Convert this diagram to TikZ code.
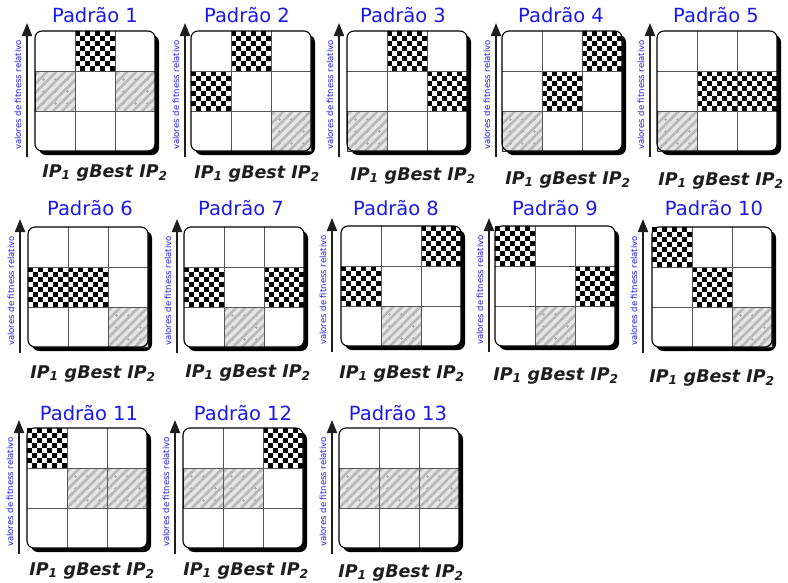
\documentclass[tikz,border=0pt]{standalone}
\usepackage{fontspec}
\setmainfont{DejaVu Sans}
\usetikzlibrary{arrows.meta}
\definecolor{ttlblue}{RGB}{25,25,235}
\definecolor{hbg}{RGB}{230,230,230}
\definecolor{hln}{RGB}{185,185,185}
\definecolor{gridc}{RGB}{85,85,85}
\definecolor{lblc}{RGB}{30,30,30}
\tikzset{
  ttl/.style={font=\fontsize{19.5}{21}\selectfont, text=ttlblue, anchor=base, inner sep=0pt},
  lbl/.style={font=\fontsize{17.5}{19}\selectfont\bfseries\itshape, text=lblc, anchor=base, inner sep=0pt},
  axlbl/.style={font=\fontsize{8.5}{9}\selectfont, text=ttlblue, rotate=90, inner sep=0pt},
  axarrow/.style={draw=lblc, line width=2pt, -{Triangle[width=10pt,length=13pt]}},
  gridline/.style={draw=gridc, line width=0.9pt},
  outerframe/.style={draw=black, line width=1.1pt, rounded corners=7pt},
}
\newcommand\PanelBase[1]{%
  \fill[black, rounded corners=7pt] ({\PX+4},{\PY+4}) rectangle ({\PX+124},{\PY+124});
  \fill[white, rounded corners=7pt] (\PX,\PY) rectangle ({\PX+120},{\PY+120});
  \coordinate (s#1) at (\AX,{\PY+126});
  \coordinate (e#1) at (\AX,{\PY-8});
  \draw[axarrow] (s#1) -- (e#1);
  \node[axlbl] (v#1) at ({\AX-9},{\PY+64}) {valores de fitness relativo};
}
\newcommand\PanelFrame{%
  \draw[gridline] ({\PX+40},\PY) -- ++(0,120);
  \draw[gridline] ({\PX+80},\PY) -- ++(0,120);
  \draw[gridline] (\PX,{\PY+40}) -- ++(120,0);
  \draw[gridline] (\PX,{\PY+80}) -- ++(120,0);
  \draw[outerframe] (\PX,\PY) rectangle ++(120,120);
}
\newcommand\Chk[2]{%
  \fill[white] ({\PX+40*#1},{\PY+40*#2}) rectangle ++(40,40);
  \foreach \i in {0,...,7}{
    \pgfmathtruncatemacro\oo{mod(\i,2)}
    \foreach \j in {0,2,4,6}{
      \fill[black] ({\PX+40*#1+(\j+\oo)*5},{\PY+40*#2+\i*5}) rectangle ++(5,5);
    }
  }
}
\newcommand\Htc[2]{%
  \begin{scope}
    \clip ({\PX+40*#1},{\PY+40*#2}) rectangle ++(40,40);
    \fill[hbg] ({\PX+40*#1},{\PY+40*#2}) rectangle ++(40,40);
    \foreach \k in {-5,...,4}{
      \draw[hln, line width=2.6pt] ({\PX+40*#1+\k*9},{\PY+40*#2+40}) -- ++(40,-40);
    }
    \foreach \a in {8,20,32}{
      \foreach \b in {8,20,32}{
        \draw[gray!60, line width=0.4pt] ({\PX+40*#1+\a-1.5},{\PY+40*#2+\b}) -- ++(3,0)
          ({\PX+40*#1+\a},{\PY+40*#2+\b-1.5}) -- ++(0,3);
      }
    }
  \end{scope}
  \draw[gridc!60!black, line width=1pt] ({\PX+40*#1},{\PY+40*#2}) rectangle ++(40,40);
}
\newcommand\IPlabel{IP\textsubscript{1} gBest IP\textsubscript{2}}
\begin{document}
\begin{tikzpicture}[x=1pt,y=-1pt]
\useasboundingbox (0,0) rectangle (788,582);
% ---------- Panel 1
\def\PX{35}\def\PY{31}\def\AX{27}
\PanelBase{1}
\Chk{1}{0}\Htc{0}{1}\Htc{2}{1}
\PanelFrame
\node[ttl] (t1) at (95,22) {Padrão 1};
\node[lbl] (l1) at (105,177) {\IPlabel};
% ---------- Panel 2
\def\PX{191}\def\PY{31}\def\AX{185}
\PanelBase{2}
\Chk{1}{0}\Chk{0}{1}\Htc{2}{2}
\PanelFrame
\node[ttl] (t2) at (247,22) {Padrão 2};
\node[lbl] (l2) at (257,178) {\IPlabel};
% ---------- Panel 3
\def\PX{347}\def\PY{31}\def\AX{339}
\PanelBase{3}
\Chk{1}{0}\Chk{2}{1}\Htc{0}{2}
\PanelFrame
\node[ttl] (t3) at (403,22) {Padrão 3};
\node[lbl] (l3) at (413,180) {\IPlabel};
% ---------- Panel 4
\def\PX{502}\def\PY{31}\def\AX{496}
\PanelBase{4}
\Chk{2}{0}\Chk{1}{1}\Htc{0}{2}
\PanelFrame
\node[ttl] (t4) at (561,22) {Padrão 4};
\node[lbl] (l4) at (568,184) {\IPlabel};
% ---------- Panel 5
\def\PX{657}\def\PY{31}\def\AX{650}
\PanelBase{5}
\Chk{1}{1}\Chk{2}{1}\Htc{0}{2}
\PanelFrame
\node[ttl] (t5) at (716,22) {Padrão 5};
\node[lbl] (l5) at (721,185) {\IPlabel};
% ---------- Panel 6
\def\PX{28}\def\PY{227}\def\AX{20}
\PanelBase{6}
\Chk{0}{1}\Chk{1}{1}\Htc{2}{2}
\PanelFrame
\node[ttl] (t6) at (90,215) {Padrão 6};
\node[lbl] (l6) at (93,378) {\IPlabel};
% ---------- Panel 7
\def\PX{184}\def\PY{227}\def\AX{177}
\PanelBase{7}
\Chk{0}{1}\Chk{2}{1}\Htc{1}{2}
\PanelFrame
\node[ttl] (t7) at (241,215) {Padrão 7};
\node[lbl] (l7) at (248,377) {\IPlabel};
% ---------- Panel 8
\def\PX{341}\def\PY{226}\def\AX{332}
\PanelBase{8}
\Chk{2}{0}\Chk{0}{1}\Htc{1}{2}
\PanelFrame
\node[ttl] (t8) at (396,215) {Padrão 8};
\node[lbl] (l8) at (402,378) {\IPlabel};
% ---------- Panel 9
\def\PX{495}\def\PY{226}\def\AX{489}
\PanelBase{9}
\Chk{0}{0}\Chk{2}{1}\Htc{1}{2}
\PanelFrame
\node[ttl] (t9) at (555,215) {Padrão 9};
\node[lbl] (l9) at (556,380) {\IPlabel};
% ---------- Panel 10
\def\PX{652}\def\PY{227}\def\AX{643}
\PanelBase{10}
\Chk{0}{0}\Chk{1}{1}\Htc{2}{2}
\PanelFrame
\node[ttl] (t10) at (714,215) {Padrão 10};
\node[lbl] (l10) at (712,382) {\IPlabel};
% ---------- Panel 11
\def\PX{27}\def\PY{428}\def\AX{19}
\PanelBase{11}
\Chk{0}{0}\Htc{1}{1}\Htc{2}{1}
\PanelFrame
\node[ttl] (t11) at (89,420) {Padrão 11};
\node[lbl] (l11) at (92,575) {\IPlabel};
% ---------- Panel 12
\def\PX{183}\def\PY{428}\def\AX{175}
\PanelBase{12}
\Chk{2}{0}\Htc{0}{1}\Htc{1}{1}
\PanelFrame
\node[ttl] (t12) at (243,420) {Padrão 12};
\node[lbl] (l12) at (246,575) {\IPlabel};
% ---------- Panel 13
\def\PX{339}\def\PY{428}\def\AX{332}
\PanelBase{13}
\Htc{0}{1}\Htc{1}{1}\Htc{2}{1}
\PanelFrame
\node[ttl] (t13) at (398,420) {Padrão 13};
\node[lbl] (l13) at (401,577) {\IPlabel};
\end{tikzpicture}
\end{document}
